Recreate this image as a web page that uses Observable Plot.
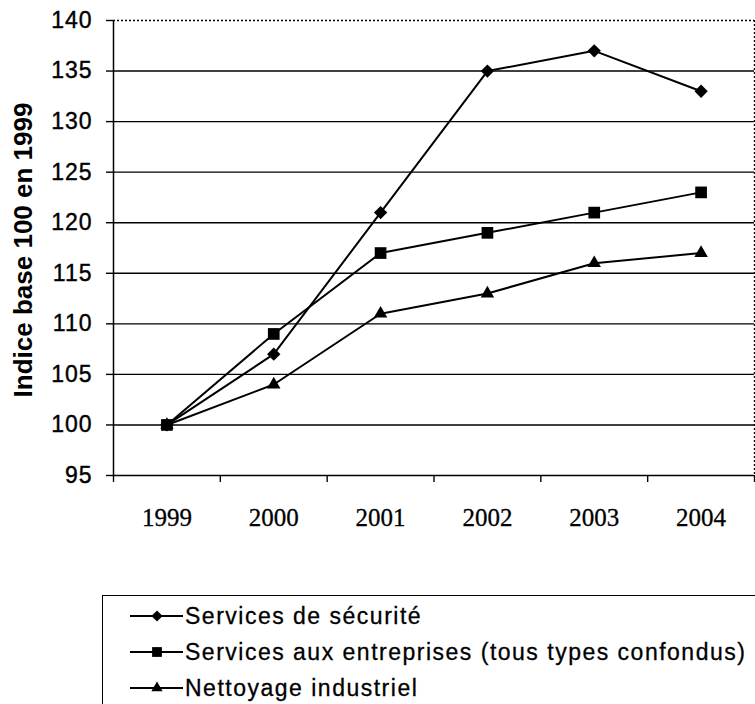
<!DOCTYPE html>
<html>
<head>
<meta charset="utf-8">
<script src="https://cdn.jsdelivr.net/npm/d3@7"></script>
<script src="https://cdn.jsdelivr.net/npm/@observablehq/plot@0.6"></script>
<style>
  html, body { margin: 0; padding: 0; background: #fff; overflow: hidden; }
  #wrap { position: relative; width: 755px; height: 704px; }
  #legend { position: absolute; left: 102px; top: 595px; width: 700px; height: 140px;
    border: 1.5px solid #000; box-sizing: border-box; font-family: "Liberation Sans", Arial, sans-serif;
    font-size: 23px; letter-spacing: 1.5px; color: #000; -webkit-text-stroke: 0.3px #000; }
  .row { position: absolute; left: 0; height: 30px; display: flex; align-items: center; }
  .row svg { margin-left: 27px; }
  .row span { margin-left: 2px; }
</style>
</head>
<body>
<div id="wrap"></div>
<script>
const years = [1999, 2000, 2001, 2002, 2003, 2004];
const seriesNames = ["Services de sécurité", "Services aux entreprises (tous types confondus)", "Nettoyage industriel"];
const securite = [100, 107, 121, 135, 137, 133];
const entreprises = [100, 109, 117, 119, 121, 123];
const nettoyage = [100, 104, 111, 113, 116, 117];
const yTicks = [95, 100, 105, 110, 115, 120, 125, 130, 135, 140];
const yLabel = "Indice base 100 en 1999";

const symbols = ["diamond2", "square", "triangle"];
const radii = [6.0, 6.6, 5.0];
const valuesList = [securite, entreprises, nettoyage];
const data = [];
seriesNames.forEach((s, i) => years.forEach((y, j) => data.push({series: s, year: y, value: valuesList[i][j], idx: i})));

const bounds = d3.range(years.length + 1).map(i => years[0] - 0.5 + i);

const chart = Plot.plot({
  width: 755,
  height: 560,
  marginLeft: 113,
  marginRight: 1,
  marginTop: 20,
  marginBottom: 85,
  style: {background: "#fff", color: "#000"},
  x: {type: "linear", domain: [bounds[0], bounds[bounds.length - 1]]},
  y: {domain: [95, 140]},
  r: {type: "identity"},
  marks: [
    Plot.ruleY(yTicks.filter(v => v < 140), {y: d => d, stroke: "#000", strokeWidth: 1.4}),
    Plot.ruleY([140], {stroke: "#000", strokeWidth: 1.4, strokeDasharray: "2,2"}),
    Plot.ruleX([bounds[bounds.length - 1]], {stroke: "#000", strokeWidth: 1.4, strokeDasharray: "2,2"}),
    Plot.ruleX([bounds[0]], {stroke: "#000", strokeWidth: 1.5}),
    Plot.axisY({ticks: yTicks, tickSize: 7, tickPadding: 14, tickFormat: d => String(d), label: null,
      fontSize: 23, fontFamily: "Liberation Sans, Arial, sans-serif", strokeWidth: 1.4}),
    Plot.axisX({ticks: bounds, tickSize: 7, tickFormat: () => "", label: null, strokeWidth: 1.4}),
    Plot.axisX({ticks: years, tickSize: 0, tickPadding: 33, tickFormat: d => String(d), label: null,
      fontSize: 25, fontFamily: "Liberation Serif, Times New Roman, serif"}),
    Plot.text([yLabel], {frameAnchor: "left", dx: -82, dy: 2, rotate: -90, textAnchor: "middle", lineAnchor: "bottom", text: d => d,
      fontSize: 26, fontWeight: "bold", fontFamily: "Liberation Sans, Arial, sans-serif", fill: "#000"}),
    Plot.line(data, {x: "year", y: "value", z: "series", stroke: "#000", strokeWidth: 2}),
    Plot.dot(data, {x: "year", y: "value", symbol: d => symbols[d.idx], r: d => radii[d.idx], fill: "#000", stroke: "none"})
  ]
});
chart.querySelectorAll("g[aria-label='y-axis tick label']").forEach(e => {
  e.setAttribute("letter-spacing", "1");
  e.setAttribute("stroke", "#000");
  e.setAttribute("stroke-width", "0.4");
});
chart.querySelectorAll("g[aria-label='x-axis tick label']").forEach(e => {
  e.setAttribute("stroke", "#000");
  e.setAttribute("stroke-width", "0.3");
});
document.getElementById("wrap").appendChild(chart);

const legend = document.createElement("div");
legend.id = "legend";
const rowTops = [5, 41, 77];
seriesNames.forEach((name, i) => {
  const row = document.createElement("div");
  row.className = "row";
  row.style.top = rowTops[i] + "px";
  const svg = d3.create("svg").attr("width", 53).attr("height", 20);
  svg.append("line").attr("x1", 0).attr("x2", 53).attr("y1", 10).attr("y2", 10).attr("stroke", "#000").attr("stroke-width", 2);
  const sym = {diamond2: d3.symbolDiamond2, square: d3.symbolSquare, triangle: d3.symbolTriangle}[symbols[i]];
  svg.append("path").attr("d", d3.symbol(sym, Math.PI * radii[i] * radii[i] * 0.7)()).attr("transform", "translate(27,10)").attr("fill", "#000");
  row.appendChild(svg.node());
  const span = document.createElement("span");
  span.textContent = name;
  row.appendChild(span);
  legend.appendChild(row);
});
document.getElementById("wrap").appendChild(legend);
</script>
</body>
</html>
